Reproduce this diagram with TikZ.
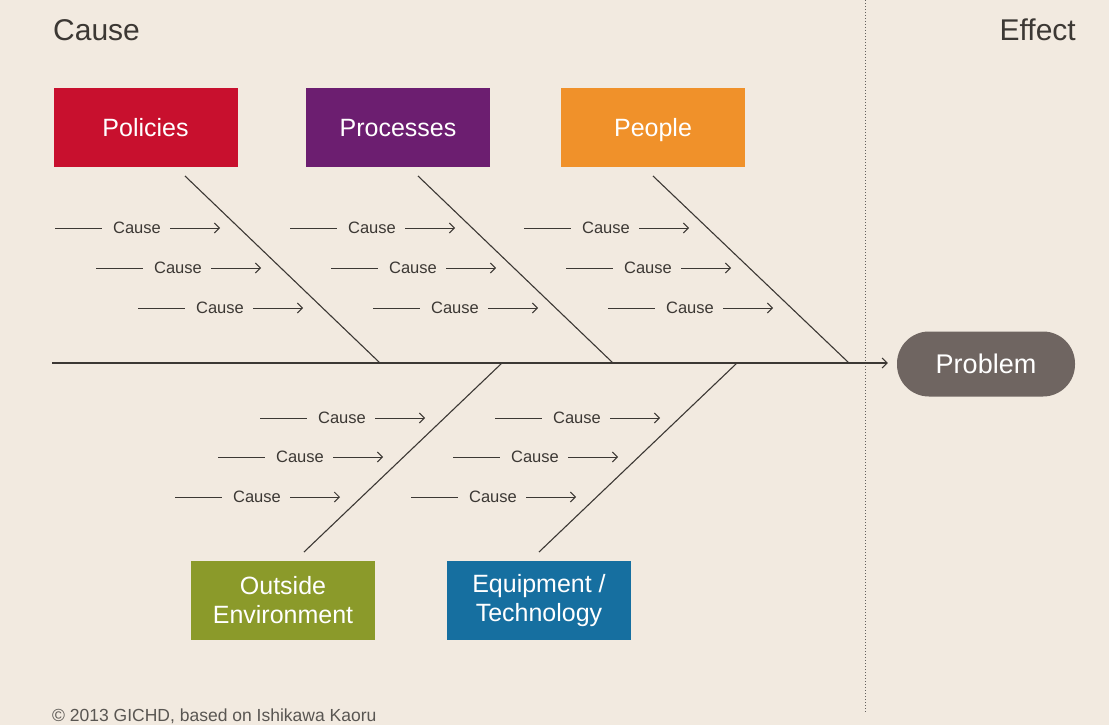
\documentclass[tikz,border=0pt]{standalone}
\usepackage{fontspec}
\setmainfont{Liberation Sans}
\usetikzlibrary{arrows.meta,calc}
\definecolor{bgc}{RGB}{242,234,224}
\definecolor{redc}{RGB}{200,16,46}
\definecolor{purc}{RGB}{108,30,112}
\definecolor{orac}{RGB}{240,145,42}
\definecolor{grnc}{RGB}{139,154,42}
\definecolor{bluc}{RGB}{22,111,160}
\definecolor{prbc}{RGB}{111,101,97}
\definecolor{inkc}{RGB}{60,56,52}
\tikzset{
  catbox/.style={minimum width=184pt, minimum height=78pt, inner sep=0pt, text=white, align=center,
    font=\fontsize{25}{28}\selectfont},
  onebox/.style={catbox, text height=18pt, text depth=0pt},
  bone/.style={draw=inkc, line width=1.1pt},
  causetxt/.style={inner sep=0pt, text=inkc, font=\fontsize{16.5}{18}\selectfont},
  causeline/.style={draw=inkc, line width=1pt},
  causearrow/.style={causeline, -{Straight Barb[length=5pt,width=10pt,line width=1pt]}},
  heading/.style={inner sep=0pt, text=inkc, anchor=west, font=\fontsize{30}{32}\selectfont},
}
\newcommand{\causerow}[3]{%
  \node[causetxt] (#1) at (#2,#3) {Cause};
  \coordinate (#1-a) at ($(#1.center)+(-82,0)$);
  \coordinate (#1-b) at ($(#1.center)+(-35,0)$);
  \coordinate (#1-c) at ($(#1.center)+(33,0)$);
  \coordinate (#1-d) at ($(#1.center)+(83,0)$);
  \draw[causeline] (#1-a) -- (#1-b);
  \draw[causearrow] (#1-c) -- (#1-d);
}
\begin{document}
\begin{tikzpicture}[x=1pt,y=-1pt]
\useasboundingbox (0,0) rectangle (1109,725);
\fill[bgc] (0,0) rectangle (1109,725);

% headings
\node[heading] (hcause) at (53,30) {Cause};
\node[heading, anchor=east] (heffect) at (1076,30) {Effect};

% dotted divider
\coordinate (dv1) at (865,0);
\coordinate (dv2) at (865,712);
\draw[inkc!80, line width=1pt, dash pattern=on 1.2pt off 1.8pt] (dv1) -- (dv2);

% category boxes
\node[onebox, fill=redc] (pol) at (145.5,127.5) {Policies};
\node[onebox, fill=purc] (pro) at (398,127.5) {Processes};
\node[onebox, fill=orac] (peo) at (653,127.5) {People};
\node[catbox, fill=grnc, minimum height=79pt] (out) at (283,600.5) {Outside\\[1pt]Environment};
\node[catbox, fill=bluc, minimum height=79pt] (equ) at (539,600.5) {Equipment /\\[1pt]Technology};

% problem
\node[fill=prbc, rounded corners=32pt, minimum width=178pt, minimum height=65pt, inner sep=0pt,
  text=white, font=\fontsize{27}{29}\selectfont] (prob) at (986,364) {Problem};

% spine
\coordinate (sp0) at (52,363);
\draw[inkc, line width=1.1pt, -{Straight Barb[length=5pt,width=10pt,line width=1pt]}] (sp0) -- ($(prob.west)+(-9,-1)$);

% bones
\coordinate (b1t) at (185,176); \coordinate (b1b) at (380,363);
\coordinate (b2t) at (418,176); \coordinate (b2b) at (613,363);
\coordinate (b3t) at (653,176); \coordinate (b3b) at (849,363);
\coordinate (b4t) at (502,363); \coordinate (b4b) at (304,552);
\coordinate (b5t) at (737,363); \coordinate (b5b) at (539,552);
\draw[bone] (b1t) -- (b1b);
\draw[bone] (b2t) -- (b2b);
\draw[bone] (b3t) -- (b3b);
\draw[bone] (b4t) -- (b4b);
\draw[bone] (b5t) -- (b5b);

% causes
\causerow{p1}{137}{228}
\causerow{p2}{178}{268}
\causerow{p3}{220}{308}
\causerow{q1}{372}{228}
\causerow{q2}{413}{268}
\causerow{q3}{455}{308}
\causerow{r1}{606}{228}
\causerow{r2}{648}{268}
\causerow{r3}{690}{308}
\causerow{o1}{342}{418}
\causerow{o2}{300}{457}
\causerow{o3}{257}{497}
\causerow{e1}{577}{418}
\causerow{e2}{535}{457}
\causerow{e3}{493}{497}

% credit
\node[inner sep=0pt, anchor=west, text=inkc!85, font=\fontsize{17.5}{19}\selectfont] (credit) at (52,716) {© 2013 GICHD, based on Ishikawa Kaoru};
\end{tikzpicture}
\end{document}
